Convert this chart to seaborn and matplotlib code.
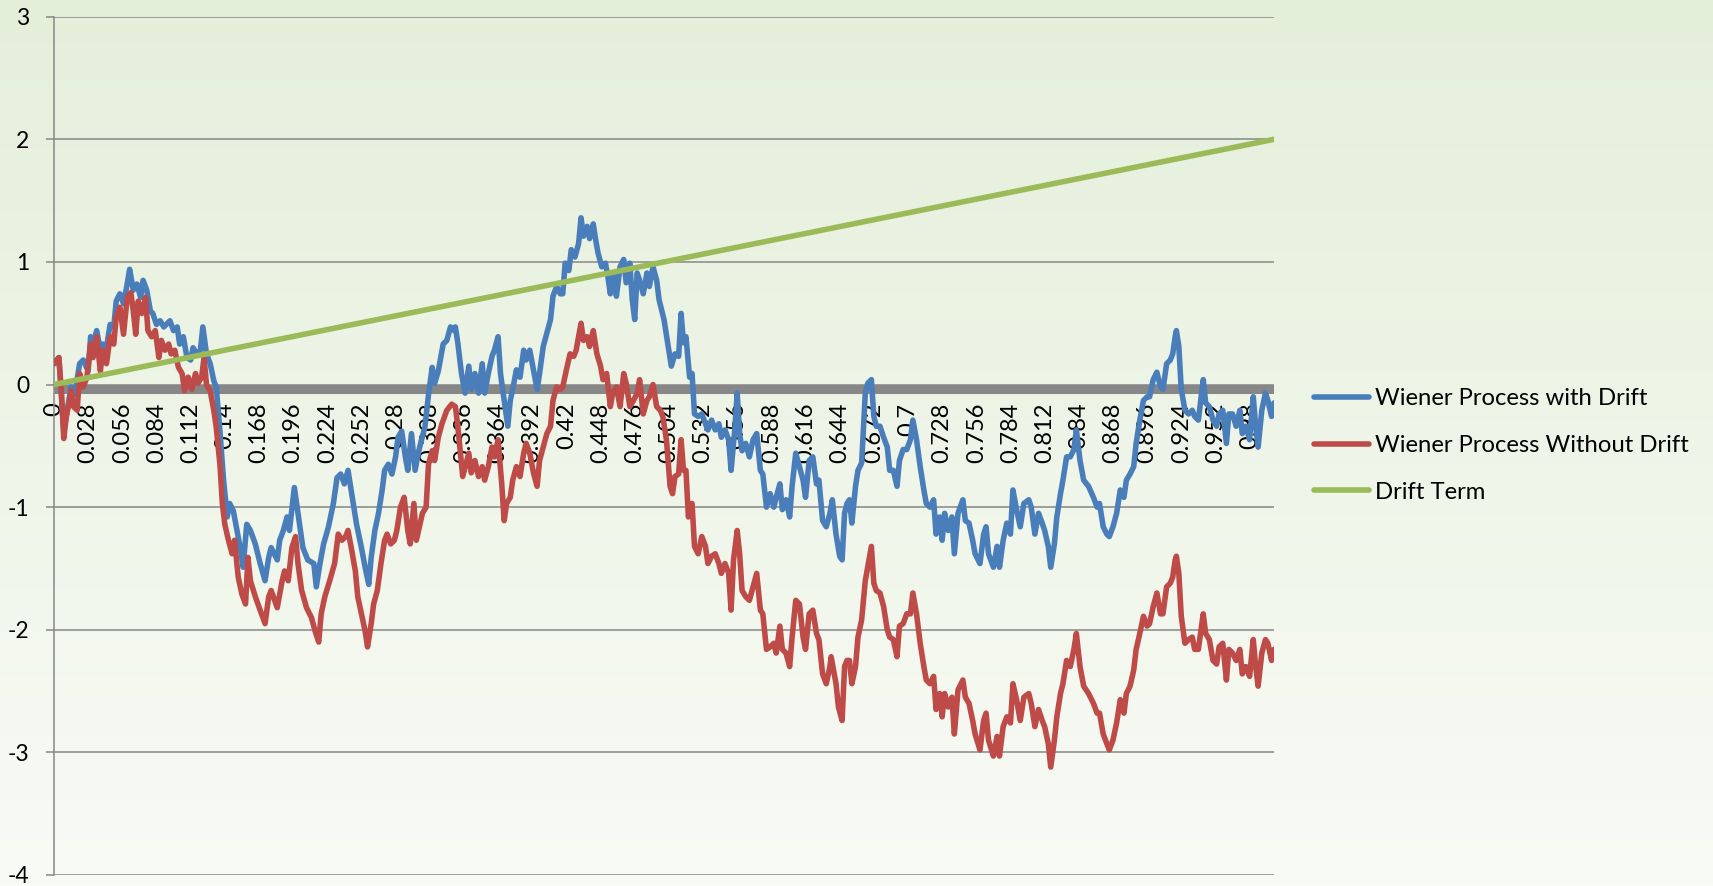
import numpy as np
import pandas as pd
import matplotlib
matplotlib.use("Agg")
import matplotlib.pyplot as plt
import matplotlib.transforms as mtransforms
from matplotlib.colors import LinearSegmentedColormap
import seaborn as sns

# ---------------- data (x = step index, t = step / 1000) ----------------
red_step = [
    0, 4, 6, 8, 10, 14, 16, 19, 21, 24, 27, 30, 32, 35, 38, 40, 43, 46, 49, 51,
    54, 57, 60, 63, 65, 67, 69, 72, 75, 77, 80, 83, 86, 88, 91, 94, 96, 99, 102, 105,
    107, 110, 113, 116, 118, 121, 123, 125, 128, 131, 133, 136, 138, 140, 143, 146, 148, 151, 154, 157,
    159,
    161, 165, 169, 173, 176, 178, 183, 187, 189, 192, 195, 198, 200, 203, 207, 211, 214, 217, 219, 222,
    226, 230, 233, 236, 239, 241, 244, 247, 249, 252, 255, 257, 260, 262, 265, 268, 271, 273, 276, 279,
    281, 284, 287, 290, 292, 295, 297, 300, 302, 305, 307, 310, 312, 315, 318, 322, 326,
    329, 331, 335, 340, 342, 345, 348, 351, 353, 356, 359, 361, 364, 367, 369, 371, 374, 376, 379, 382,
    385, 387, 390, 393, 396, 398, 401, 404, 407, 409, 412, 415, 417, 420, 423, 426, 428, 432, 434, 437,
    439, 442, 445, 448, 450, 453, 456, 458, 461, 464, 467, 469, 472, 475, 478, 480, 483, 486, 488, 491,
    494,
    497, 499, 502, 505, 507, 509, 512, 514, 516, 518, 520, 523, 525, 528, 531, 534, 536, 539, 542, 545,
    547, 550, 553, 555, 557, 560, 562, 564, 567, 570, 573, 576, 579, 581, 584, 587, 590, 592, 595, 597,
    600, 603, 605, 608, 611, 614, 616, 619, 622, 625, 627, 630, 633, 636, 637, 641, 643, 646, 648, 650,
    652, 654, 657, 659, 662,
    665, 667, 670, 672, 674, 677, 680, 683, 685, 688, 691, 693, 696, 699, 702, 704, 707, 710, 713, 715,
    718, 721, 723, 726, 728, 730, 733, 736, 738, 741, 745, 747, 750, 753, 755, 759, 762, 764, 766, 770,
    773, 775, 778, 781, 784, 786, 789, 792, 795, 799, 801, 804, 807, 810, 812, 815, 817, 820, 822, 825,
    827, 830,
    833, 836, 838, 841, 844, 848, 852, 855, 857, 860, 863, 865, 868, 871, 874, 877, 879, 882, 885, 887,
    890, 893, 896, 898, 901, 904, 907, 909, 912, 915, 917, 919, 920, 922, 924, 927, 930, 933, 935, 938,
    942, 944, 947, 950, 953, 955, 958, 961, 963, 966, 969, 972, 974, 977, 980, 983, 985, 987, 990, 993,
    995, 998, 1000,
]
red_val = [
    0.17, 0.22, -0.05, -0.44, -0.27, -0.05, -0.18, -0.21, 0.09, -0.02, 0.06, 0.33, 0.22, 0.39, 0.11, 0.28, 0.17, 0.39, 0.33, 0.55,
    0.63, 0.41, 0.71, 0.75, 0.60, 0.41, 0.68, 0.58, 0.71, 0.44, 0.39, 0.44, 0.22, 0.36, 0.28, 0.33, 0.25, 0.28, 0.14, 0.09,
    -0.05, 0.06, -0.04, 0.09, 0.01, 0.06, 0.22, 0.0, -0.05, -0.21, -0.35, -0.65, -0.97, -1.14, -1.27, -1.38, -1.27, -1.57, -1.71, -1.79,
    -1.41,
    -1.60, -1.73, -1.84, -1.95, -1.73, -1.68, -1.82, -1.60, -1.52, -1.60, -1.33, -1.24, -1.46, -1.68, -1.82, -1.90, -2.01, -2.10, -1.87, -1.73,
    -1.60, -1.46, -1.22, -1.27, -1.24, -1.19, -1.35, -1.52, -1.73, -1.87, -2.01, -2.14, -1.95, -1.79, -1.68, -1.46, -1.27, -1.22, -1.30, -1.27,
    -1.19, -1.0, -0.92, -1.19, -1.30, -0.97, -1.27, -1.14, -1.05, -1.0, -0.65, -0.54, -0.62, -0.43, -0.32, -0.21, -0.16,
    -0.18, -0.34, -0.75, -0.56, -0.72, -0.62, -0.75, -0.67, -0.78, -0.67, -0.51, -0.59, -0.45, -0.81, -1.11, -0.97, -0.92, -0.78, -0.67, -0.75,
    -0.56, -0.48, -0.56, -0.72, -0.83, -0.62, -0.51, -0.40, -0.34, -0.13, -0.02, -0.04, -0.02, 0.12, 0.25, 0.23, 0.28, 0.50, 0.36, 0.39,
    0.31, 0.44, 0.25, 0.15, 0.04, 0.09, -0.18, -0.07, -0.02, -0.18, 0.09, 0.01, -0.18, -0.13, -0.07, 0.04, -0.24, -0.13, -0.10, 0.0,
    -0.18,
    -0.21, -0.26, -0.45, -0.83, -0.89, -0.75, -0.73, -0.45, -0.70, -0.70, -1.08, -0.97, -1.32, -1.38, -1.24, -1.32, -1.46, -1.40, -1.38, -1.46,
    -1.54, -1.46, -1.54, -1.84, -1.43, -1.19, -1.38, -1.68, -1.73, -1.76, -1.65, -1.54, -1.84, -1.87, -2.16, -2.14, -2.11, -2.19, -1.97, -2.16,
    -2.19, -2.30, -2.06, -1.76, -1.79, -2.06, -2.16, -1.87, -1.84, -2.03, -2.08, -2.36, -2.44, -2.30, -2.22, -2.44, -2.63, -2.74, -2.30, -2.25,
    -2.25, -2.44, -2.30, -2.06, -1.92,
    -1.60, -1.49, -1.32, -1.62, -1.68, -1.70, -1.81, -2.0, -2.06, -2.08, -2.22, -1.97, -1.95, -1.87, -1.87, -1.70, -1.87, -2.11, -2.30, -2.41,
    -2.44, -2.38, -2.65, -2.52, -2.71, -2.52, -2.63, -2.55, -2.85, -2.49, -2.41, -2.55, -2.60, -2.74, -2.85, -2.98, -2.74, -2.68, -2.90, -3.03,
    -2.87, -3.03, -2.79, -2.71, -2.76, -2.44, -2.57, -2.74, -2.55, -2.52, -2.60, -2.79, -2.65, -2.74, -2.79, -2.93, -3.12, -2.90, -2.71, -2.52,
    -2.44, -2.25,
    -2.30, -2.16, -2.03, -2.30, -2.46, -2.52, -2.60, -2.68, -2.68, -2.85, -2.93, -2.98, -2.90, -2.76, -2.57, -2.68, -2.52, -2.46, -2.33, -2.16,
    -2.03, -1.89, -1.97, -1.95, -1.81, -1.70, -1.87, -1.87, -1.65, -1.62, -1.57, -1.43, -1.40, -1.54, -1.89, -2.11, -2.08, -2.06, -2.16, -2.16,
    -1.87, -2.03, -2.08, -2.25, -2.28, -2.14, -2.11, -2.41, -2.16, -2.19, -2.25, -2.16, -2.36, -2.30, -2.38, -2.08, -2.30, -2.46, -2.19, -2.08,
    -2.11, -2.25, -2.16,
]

blue_step = [
    0, 4, 8, 14, 17, 21, 24, 28, 30, 32, 35, 38, 40, 43, 46, 49, 51, 54, 57, 60,
    62, 65, 68, 71, 73, 76, 79, 81, 84, 87, 90, 92, 95, 98, 101, 103, 106, 109, 112, 114,
    117, 120, 122, 125, 128, 131, 133, 136, 139, 142, 144, 147, 150, 153, 155, 158,
    161, 165, 169, 173, 176, 178, 183, 185, 188, 191, 193, 197, 200, 204, 208, 213, 215, 218, 221, 225,
    229, 232, 235, 238, 241, 244, 248, 252, 255, 258, 260, 263, 266, 269, 271, 274, 277, 280, 282, 285,
    288, 290, 293, 296, 299, 301, 304, 307, 310, 312, 315, 319, 322, 325, 328,
    329, 331, 334, 337, 340, 342, 345, 348, 351, 353, 356, 359, 361, 364, 366, 369, 372, 374, 376, 379,
    382, 385, 387, 390, 393, 396, 398, 401, 404, 407, 409, 412, 415, 417, 419, 422, 424, 427, 430, 432,
    434, 437, 439, 442, 444, 446, 449, 452, 454, 456, 459, 461, 464, 467, 469, 472, 474, 476, 478, 480,
    483, 486, 488, 491, 494, 496,
    500, 504, 506, 509, 512, 514, 516, 518, 521, 523, 525, 528, 531, 534, 536, 539, 542, 545, 547, 550,
    553, 555, 558, 560, 562, 564, 567, 570, 573, 576, 579, 581, 584, 587, 590, 592, 595, 597, 600, 603,
    605, 608, 611, 614, 616, 619, 622, 625, 627, 630, 633, 636, 638, 641, 644, 646, 648, 650, 652, 654,
    657, 659, 662,
    665, 667, 670, 672, 674, 677, 680, 683, 685, 688, 691, 693, 696, 699, 702, 704, 707, 710, 713, 715,
    718, 721, 723, 726, 728, 730, 733, 736, 738, 741, 745, 747, 750, 753, 755, 759, 762, 764, 766, 770,
    773, 775, 778, 781, 784, 786, 789, 792, 795, 799, 801, 804, 807, 810, 812, 815, 817, 820, 822, 825,
    827, 830,
    833, 836, 838, 841, 844, 848, 852, 855, 857, 860, 863, 865, 868, 871, 874, 877, 879, 882, 885, 887,
    890, 893, 896, 898, 901, 904, 907, 909, 912, 915, 917, 919, 920, 922, 924, 927, 930, 933, 935, 938,
    942, 944, 947, 950, 953, 955, 958, 961, 963, 966, 969, 972, 974, 977, 980, 983, 985, 987, 990, 993,
    995, 998, 1000,
]
blue_val = [
    0.17, 0.22, -0.38, -0.02, -0.08, 0.17, 0.20, 0.11, 0.39, 0.33, 0.44, 0.28, 0.33, 0.30, 0.49, 0.47, 0.68, 0.74, 0.66, 0.82,
    0.94, 0.77, 0.82, 0.71, 0.85, 0.77, 0.60, 0.58, 0.49, 0.52, 0.47, 0.49, 0.52, 0.44, 0.47, 0.33, 0.39, 0.22, 0.20, 0.30,
    0.25, 0.28, 0.47, 0.25, 0.17, 0.03, -0.02, -0.38, -0.78, -1.08, -0.97, -1.03, -1.19, -1.35, -1.49, -1.14,
    -1.19, -1.30, -1.46, -1.60, -1.41, -1.33, -1.43, -1.27, -1.19, -1.08, -1.19, -0.84, -1.05, -1.33, -1.43, -1.46, -1.65, -1.46, -1.30, -1.16,
    -0.97, -0.76, -0.73, -0.81, -0.70, -0.89, -1.14, -1.33, -1.49, -1.63, -1.41, -1.19, -1.05, -0.86, -0.70, -0.65, -0.73, -0.59, -0.43, -0.38,
    -0.59, -0.70, -0.40, -0.70, -0.54, -0.46, -0.35, -0.08, 0.14, 0.01, 0.11, 0.33, 0.36, 0.47, 0.44,
    0.47, 0.34, 0.09, -0.07, 0.15, -0.04, 0.09, -0.07, 0.17, -0.07, 0.09, 0.23, 0.28, 0.39, 0.09, -0.13, -0.34, -0.13, -0.04, 0.12,
    0.06, 0.28, 0.20, 0.28, 0.12, -0.04, 0.09, 0.31, 0.42, 0.53, 0.72, 0.80, 0.74, 0.74, 0.99, 0.93, 1.10, 1.04, 1.15, 1.36,
    1.21, 1.29, 1.19, 1.31, 1.18, 1.07, 0.96, 0.99, 0.88, 0.74, 0.91, 0.72, 0.96, 1.02, 0.83, 0.99, 0.69, 0.53, 0.91, 0.85,
    0.74, 0.91, 0.80, 0.96, 0.85, 0.69,
    0.53, 0.28, 0.15, 0.25, 0.23, 0.58, 0.34, 0.39, 0.06, 0.09, -0.24, -0.26, -0.24, -0.32, -0.37, -0.29, -0.37, -0.32, -0.43, -0.37,
    -0.45, -0.70, -0.37, -0.07, -0.40, -0.54, -0.48, -0.59, -0.45, -0.40, -0.70, -0.73, -1.0, -0.89, -1.0, -0.92, -0.81, -1.02, -0.94, -1.08,
    -0.83, -0.56, -0.67, -0.78, -0.92, -0.62, -0.59, -0.81, -0.78, -1.11, -1.16, -1.05, -0.94, -1.22, -1.40, -1.43, -1.05, -0.97, -0.94, -1.13,
    -0.83, -0.70, -0.64,
    -0.07, 0.01, 0.04, -0.26, -0.34, -0.34, -0.43, -0.51, -0.70, -0.70, -0.83, -0.62, -0.53, -0.53, -0.45, -0.29, -0.45, -0.67, -0.86, -0.97,
    -1.0, -0.94, -1.22, -1.08, -1.27, -1.05, -1.19, -1.08, -1.38, -1.05, -0.94, -1.11, -1.13, -1.27, -1.38, -1.46, -1.22, -1.16, -1.38, -1.49,
    -1.32, -1.49, -1.27, -1.13, -1.22, -0.86, -1.02, -1.16, -0.97, -0.94, -1.0, -1.22, -1.05, -1.13, -1.19, -1.32, -1.49, -1.30, -1.08, -0.89,
    -0.78, -0.59,
    -0.59, -0.53, -0.37, -0.62, -0.78, -0.83, -0.92, -1.0, -0.97, -1.16, -1.22, -1.24, -1.16, -1.05, -0.86, -0.92, -0.78, -0.73, -0.67, -0.48,
    -0.29, -0.13, -0.10, -0.10, 0.04, 0.10, -0.02, -0.04, 0.17, 0.20, 0.25, 0.39, 0.44, 0.31, -0.04, -0.21, -0.24, -0.21, -0.26, -0.29,
    0.04, -0.15, -0.18, -0.29, -0.34, -0.24, -0.21, -0.48, -0.24, -0.24, -0.34, -0.21, -0.40, -0.34, -0.45, -0.10, -0.34, -0.51, -0.21, -0.07,
    -0.13, -0.26, -0.15,
]

drift_step = [0, 1000]
drift_val = [0.0, 2.0]

series_names = ["Wiener Process with Drift", "Wiener Process Without Drift", "Drift Term"]

x_tick_steps = [0, 28, 56, 84, 112, 140, 168, 196, 224, 252, 280, 308, 336, 364, 392, 420, 448, 476,
                504, 532, 560, 588, 616, 644, 672, 700, 728, 756, 784, 812, 840, 868, 896, 924, 952, 980]
x_tick_labels = ["0", "0.028", "0.056", "0.084", "0.112", "0.14", "0.168", "0.196", "0.224", "0.252",
                 "0.28", "0.308", "0.336", "0.364", "0.392", "0.42", "0.448", "0.476", "0.504", "0.532",
                 "0.56", "0.588", "0.616", "0.644", "0.672", "0.7", "0.728", "0.756", "0.784", "0.812",
                 "0.84", "0.868", "0.896", "0.924", "0.952", "0.98"]
y_ticks = [-4, -3, -2, -1, 0, 1, 2, 3]

# ---------------- style ----------------
plt.rcParams['font.family'] = ['Lato', 'DejaVu Sans']
BLUE = "#4A7EBB"
RED = "#BE4B48"
GREEN = "#9BBB59"
GRAY = "#878787"

fig = plt.figure(figsize=(17.13, 8.86), dpi=100)

# gradient background over the whole figure
bg = fig.add_axes([0, 0, 1, 1], zorder=-10)
grad = np.linspace(0, 1, 256).reshape(-1, 1)
cmap = LinearSegmentedColormap.from_list("bg", ["#E4EFDA", "#F9FBF6"])
bg.imshow(grad, aspect="auto", cmap=cmap, extent=[0, 1, 0, 1], origin="upper")
bg.axis("off")

ax = fig.add_axes([0.03152, 0.01242, 0.7122, 0.96873])
ax.set_facecolor("none")

df_blue = pd.DataFrame({"step": blue_step, "value": blue_val})
df_red = pd.DataFrame({"step": red_step, "value": red_val})
df_drift = pd.DataFrame({"step": drift_step, "value": drift_val})

line_kw = dict(estimator=None, sort=False, solid_joinstyle="round", solid_capstyle="round")
sns.lineplot(data=df_blue, x="step", y="value", ax=ax, color=BLUE, lw=4.3,
             label=series_names[0], zorder=3, **line_kw)
sns.lineplot(data=df_red, x="step", y="value", ax=ax, color=RED, lw=4.3,
             label=series_names[1], zorder=4, **line_kw)
sns.lineplot(data=df_drift, x="step", y="value", ax=ax, color=GREEN, lw=3.8,
             label=series_names[2], zorder=5, **line_kw)

handles, labels = ax.get_legend_handles_labels()
if ax.get_legend() is not None:
    ax.get_legend().remove()

ax.set_xlim(0, 1000)
ax.set_ylim(-4, 3)
ax.set_xlabel("")
ax.set_ylabel("")

# y axis
ax.set_yticks(y_ticks)
ax.set_yticklabels([str(v) for v in y_ticks])
ax.grid(axis="y", color=GRAY, lw=1.1)
ax.grid(axis="x", visible=False)
ax.set_axisbelow(True)
for s in ["top", "right"]:
    ax.spines[s].set_visible(False)
ax.spines["left"].set_color(GRAY)
ax.spines["left"].set_linewidth(1.1)
ax.tick_params(axis="y", direction="out", length=5.8, width=1.1, color=GRAY,
               pad=12, labelsize=16.5, labelcolor="black")

# category axis crossing at 0
ax.spines["bottom"].set_position(("data", 0))
ax.spines["bottom"].set_visible(False)
ax.set_xticks(x_tick_steps)
ax.set_xticklabels(x_tick_labels, rotation=90, va="top", ha="center")
ax.tick_params(axis="x", length=0, pad=13, labelsize=17, labelcolor="black")

zl = ax.axhline(0, color=GRAY, lw=6.5, zorder=2.5, solid_capstyle="butt")
zl.set_transform(mtransforms.offset_copy(zl.get_transform(), fig=fig, x=0, y=-4.5, units="dots"))

for h in handles:
    h.set_linewidth(4.0)
fig.legend(handles, labels, loc="center left", bbox_to_anchor=(0.7671, 0.4972),
           frameon=False, fontsize=17.2, handlelength=2.3, handletextpad=0.25,
           labelspacing=1.08, borderpad=0, borderaxespad=0)

fig.savefig("out.png", dpi=100)
